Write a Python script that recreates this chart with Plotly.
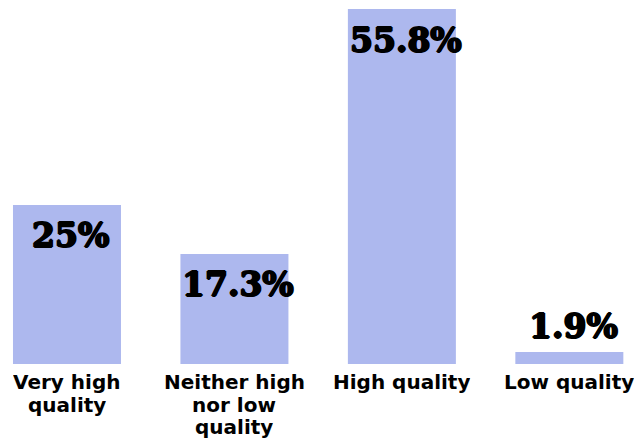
import plotly.graph_objects as go

categories = ["Very high<br>quality", "Neither high<br>nor low<br>quality", "High quality", "Low quality"]
values = [25, 17.3, 55.8, 1.9]
labels = ["25%", "17.3%", "55.8%", "1.9%"]

x = list(range(len(categories)))

fig = go.Figure(go.Bar(
    x=x, y=values, width=0.645,
    marker=dict(color="#adb8ee", line=dict(width=0)),
    hoverinfo="skip",
))

heavy = "1px 0 0 black, -1px 0 0 black, 0 1px 0 black, 0 -1px 0 black"
for xi, v, lab in zip(x, values, labels):
    inside = v > 10
    fig.add_annotation(
        x=xi, y=v, text=lab, showarrow=False,
        yanchor="middle", xanchor="center",
        xshift=4, yshift=-31 if inside else 25,
        font=dict(family="DejaVu Serif", size=33, color="black", weight="bold", shadow=heavy),
    )

# category labels, one line each, tight line spacing
for xi, cat in zip(x, categories):
    for i, line in enumerate(cat.split("<br>")):
        fig.add_annotation(
            x=xi, y=0, text=line, showarrow=False,
            yanchor="top", xanchor="center", yshift=-6 - 22.5 * i,
            height=22, borderpad=0, valign="middle",
            font=dict(family="DejaVu Sans", size=20, color="black", weight="bold"),
        )

fig.update_layout(
    width=639, height=440,
    margin=dict(l=0, r=0, t=9, b=76),
    paper_bgcolor="white", plot_bgcolor="white",
    showlegend=False,
    xaxis=dict(
        range=[-0.4, 3.416], showgrid=False, zeroline=False, showline=False,
        ticks="", showticklabels=False,
    ),
    yaxis=dict(range=[0, 55.8], visible=False, showgrid=False, zeroline=False),
)

fig.write_html("out.html")
